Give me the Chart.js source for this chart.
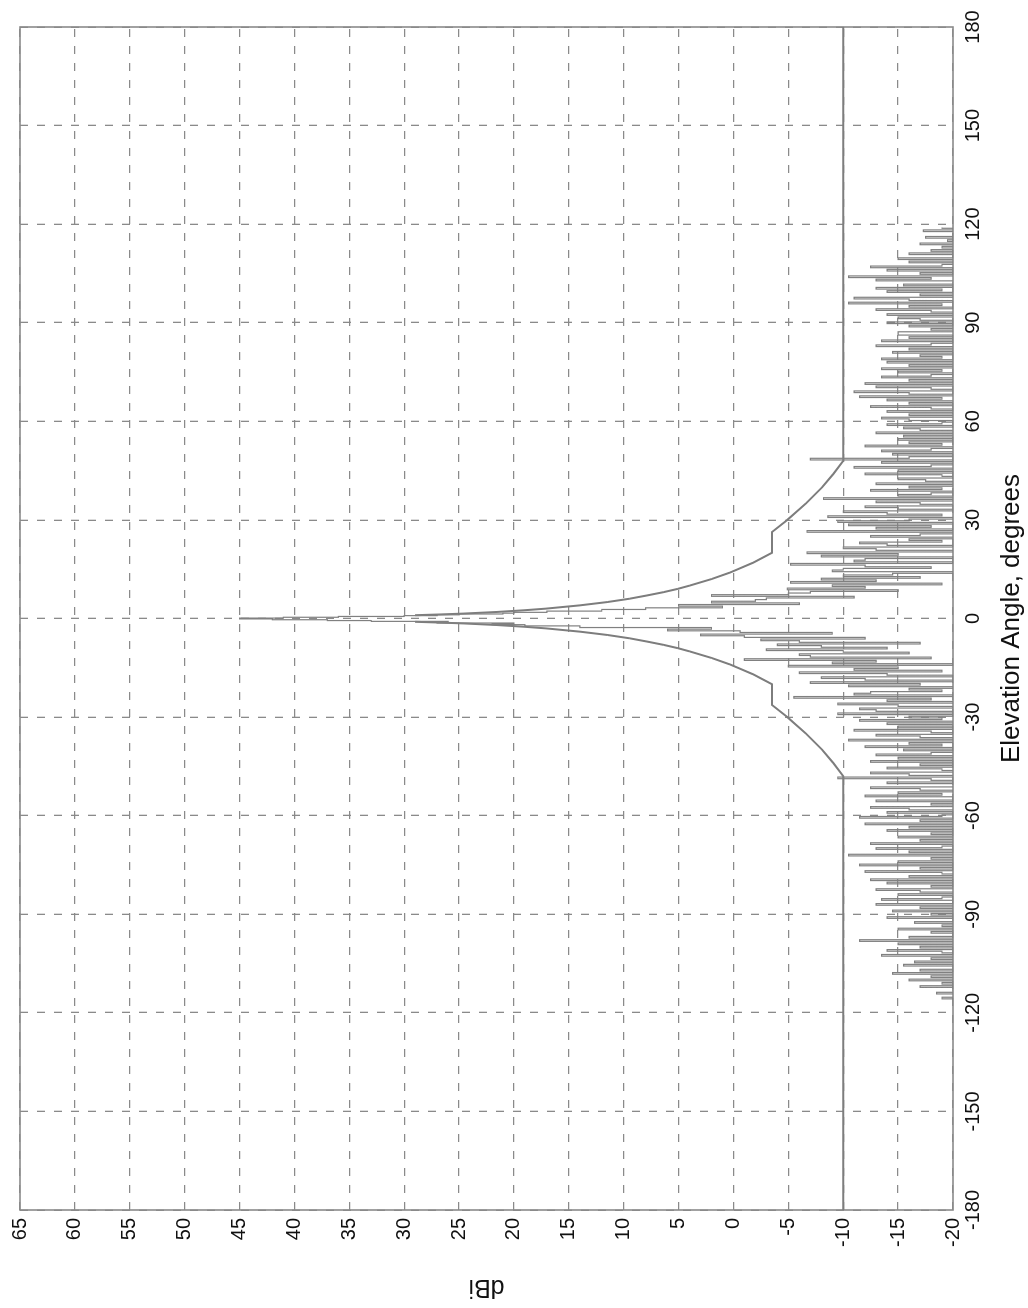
<!DOCTYPE html>
<html>
<head>
<meta charset="utf-8">
<script src="https://cdn.jsdelivr.net/npm/chart.js@4.4.1/dist/chart.umd.min.js"></script>
<style>
  html, body { margin: 0; padding: 0; background: #fff; overflow: hidden; }
  /* the plot is laid out landscape and turned a quarter turn to the left */
  #turn {
    position: absolute; left: 0; top: 0;
    width: 1308px; height: 1028px;
    transform-origin: 0 0;
    transform: translate(0, 1308px) rotate(-90deg);
  }
</style>
</head>
<body>
<div id="turn"><canvas id="elevationChart" width="1308" height="1028"></canvas></div>
<script>
// reference envelope (dBi vs elevation angle)
var maskAngle = [-180, -48, -44, -40, -35, -30, -26.3, -20, -17, -15, -14, -12, -10, -9, -8, -7, -6, -5, -4, -3, -2.5, -2, -1.5, -1.25, -1,
                 0,
                 1, 1.25, 1.5, 2, 2.5, 3, 4, 5, 6, 7, 8, 9, 10, 12, 14, 15, 17, 20, 26.3, 30, 35, 40, 44, 48, 180];
var maskGain = [-10, -10, -9.1, -8.1, -6.6, -4.9, -3.5, -3.5, -1.8, -0.4, 0.3, 2, 4, 5.1, 6.4, 7.9, 9.5, 11.5, 14, 17.1, 19.1, 21.5, 24.6, 26.6, 29,
                null,
                29, 26.6, 24.6, 21.5, 19.1, 17.1, 14, 11.5, 9.5, 7.9, 6.4, 5.1, 4, 2, 0.3, -0.4, -1.8, -3.5, -3.5, -4.9, -6.6, -8.1, -9.1, -10, -10];

// measured pattern, 0.5 degree steps
var sweepStep = 0.5;
var lowerStart = -116;
var lowerGain = [
  -24, -19, -25, -21, -18.5, -24, -20, -26, -17, -23, -19, -25, -16, -22, -18, -24, -14.5, -23, -17, -21,
  -25, -15.5, -22, -16.5, -24, -18, -21, -13.5, -23, -19, -14, -24, -17, -21, -15, -25, -11.5, -22, -16, -20,
  -24, -18, -22, -15, -26, -19, -23, -16.5, -21, -25, -14, -22, -18, -24, -14.5, -21, -17, -25, -13, -20,
  -23, -13.5, -19, -24, -15, -21, -17, -13, -25, -18, -22, -14, -20, -12.5, -24, -16, -21, -19, -12, -23,
  -17, -22, -11.5, -25, -15, -20, -18, -23, -10.5, -21, -16, -24, -13, -19, -22, -12.5, -25, -17, -21, -15,
  -24, -18, -22, -14, -20, -16, -25, -12, -21, -17, -23, -11.5, -19, -24, -14, -21, -16, -12.5, -25, -18,
  -22, -13, -20, -24, -12, -19, -15, -23, -17, -12.5, -21, -25, -14, -20, -18, -9.5, -22, -16, -12.5, -24,
  -19, -14, -21, -17, -25, -12.5, -20, -15, -23, -13, -18, -22, -15.5, -24, -12, -19, -16, -21, -10.5, -23,
  -17, -13, -22, -18, -11, -25, -15, -20, -14, -23, -11.5, -19, -16, -21, -9.5, -24, -13, -11.5, -20, -15,
  -9.5, -22, -14, -18, -5.5, -21, -11, -12.5, -19, -16, -24, -10.5, -17, -7, -21, -12, -8, -20, -14, -6,
  -19, -11, -15, -5, -21, -9, -13, -1, -18, -7, -6, -16, -10, -3, -14, -8, -4, -17, -6, -2.5,
  -12, -1, 3, -9, -0.6, 6, 2, 14
];
var mainLobeAngle = [-2, -1.75, -1.5, -1.25, -1, -0.75, -0.5, -0.25, 0, 0.25, 0.5, 0.75, 1, 1.25, 1.5, 1.75, 2];
var mainLobeGain = [19, 22, 20, 27, 26, 33, 37, 42, 45, 41, 36, 30, 27, 25, 21, 20, 17];
var upperStart = 2.5;
var upperGain = [
  12, 8, 1, 5, -6, 2, -2, -3, -11,
  2, -5, -7, -15, -4.9, -12, -9, -19, -5.2, -13, -8, -17, -10, -14.5, -21, -9, -10, -18, -12, -5.2,
  -20, -11, -12, -23, -8, -15, -6.7, -21, -13, -10, -24, -14, -11.5, -19, -16, -22, -12.5, -17, -25, -6.7,
  -20, -13, -18, -10.5, -22, -9.5, -16, -24, -8.6, -19, -14, -10, -21, -15, -12, -25, -17, -13, -20, -8.2,
  -22, -15, -18, -24, -12.5, -19, -16, -21, -13, -23, -17.5, -15, -25, -19, -12, -21, -15, -24, -11, -18,
  -20, -13.5, -23, -7, -16, -21, -14.5, -25, -13.5, -18, -22, -12, -19, -16, -24, -15, -20, -15.5, -23, -13,
  -21, -17, -15.5, -25, -14, -19, -22, -16, -13.5, -24, -16, -20, -14, -23, -18, -12.5, -21, -16, -25, -14,
  -19, -11.5, -23, -16, -11, -21, -18, -13, -25, -12, -20, -16, -22, -13.5, -18, -24, -15, -19, -13.5, -22,
  -16, -21, -14, -25, -13.5, -19, -17, -23, -14.5, -20, -16, -24, -13, -18, -22, -13.5, -20, -16, -25, -15,
  -15, -21, -18, -24, -16, -20, -14, -23, -17, -15, -21, -14, -25, -18, -13, -22, -16, -19, -10.5, -23,
  -16, -11, -21, -17, -24, -14, -19, -13, -22, -15.5, -20, -25, -13, -18, -10.5, -23, -17, -21, -14, -24,
  -12.5, -19, -22, -16, -25, -15, -20, -24, -16, -21, -18, -25, -19, -23, -17, -26, -19.5, -22, -17.5, -25, -20, -24, -17.3, -23, -19
];

var angleTicks = { min: -180, max: 180, step: 30 };
var gainTicks = { min: -20, max: 65, step: 5 };

var Elevation = {
  sweep: function (start, values) {
    return values.map(function (v, i) { return { x: start + i * sweepStep, y: v }; });
  },
  pairs: function (xs, ys) {
    return xs.map(function (x, i) { return { x: x, y: ys[i] }; });
  },
  // solid frame around the plotting area
  frame: {
    id: "frame",
    beforeDatasetsDraw: function (chart) {
      var a = chart.chartArea, ctx = chart.ctx;
      ctx.save();
      ctx.strokeStyle = "#8a8a8a";
      ctx.lineWidth = 1.6;
      ctx.setLineDash([]);
      ctx.strokeRect(a.left, a.top, a.right - a.left, a.bottom - a.top);
      ctx.restore();
    }
  },
  draw: function (canvas) {
    var measured = Elevation.sweep(lowerStart, lowerGain)
      .concat(Elevation.pairs(mainLobeAngle, mainLobeGain))
      .concat(Elevation.sweep(upperStart, upperGain));
    var mask = Elevation.pairs(maskAngle, maskGain);

    Chart.defaults.font.family = "'Liberation Sans', Arial, sans-serif";
    Chart.defaults.color = "#111";

    new Chart(canvas, {
      type: "line",
      data: {
        datasets: [
          {
            label: "Measured",
            data: measured,
            borderColor: "#808080",
            borderWidth: 1.2,
            pointRadius: 0,
            stepped: "middle"
          },
          {
            label: "Envelope",
            data: mask,
            borderColor: "#7d7d7d",
            borderWidth: 2,
            pointRadius: 0,
            tension: 0,
            spanGaps: false
          }
        ]
      },
      options: {
        responsive: false,
        animation: false,
        events: [],
        layout: { padding: { left: 0, right: 27, top: 19, bottom: 0 } },
        plugins: { legend: { display: false }, tooltip: { enabled: false } },
        scales: {
          x: {
            type: "linear",
            min: angleTicks.min,
            max: angleTicks.max,
            afterFit: function (scale) { scale.height = 75; },
            ticks: { stepSize: angleTicks.step, autoSkip: false, maxRotation: 0, padding: 8, font: { size: 20 } },
            grid: { color: "#8a8a8a", lineWidth: 1.3, drawTicks: false },
            border: { display: false, dash: [8, 9] },
            title: { display: true, text: "Elevation Angle, degrees", font: { size: 26 }, padding: { top: 0, bottom: 1 } }
          },
          y: {
            min: gainTicks.min,
            max: gainTicks.max,
            afterFit: function (scale) { scale.width = 98; },
            ticks: { stepSize: gainTicks.step, autoSkip: false, padding: 8, font: { size: 20 } },
            grid: { color: "#8a8a8a", lineWidth: 1.3, drawTicks: false },
            border: { display: false, dash: [8, 9] },
            title: { display: true, text: "dBi", font: { size: 25 }, padding: { top: 6, bottom: 0 } }
          }
        }
      },
      plugins: [Elevation.frame]
    });
  }
};

Elevation.draw(document.getElementById("elevationChart"));
</script>
</body>
</html>
